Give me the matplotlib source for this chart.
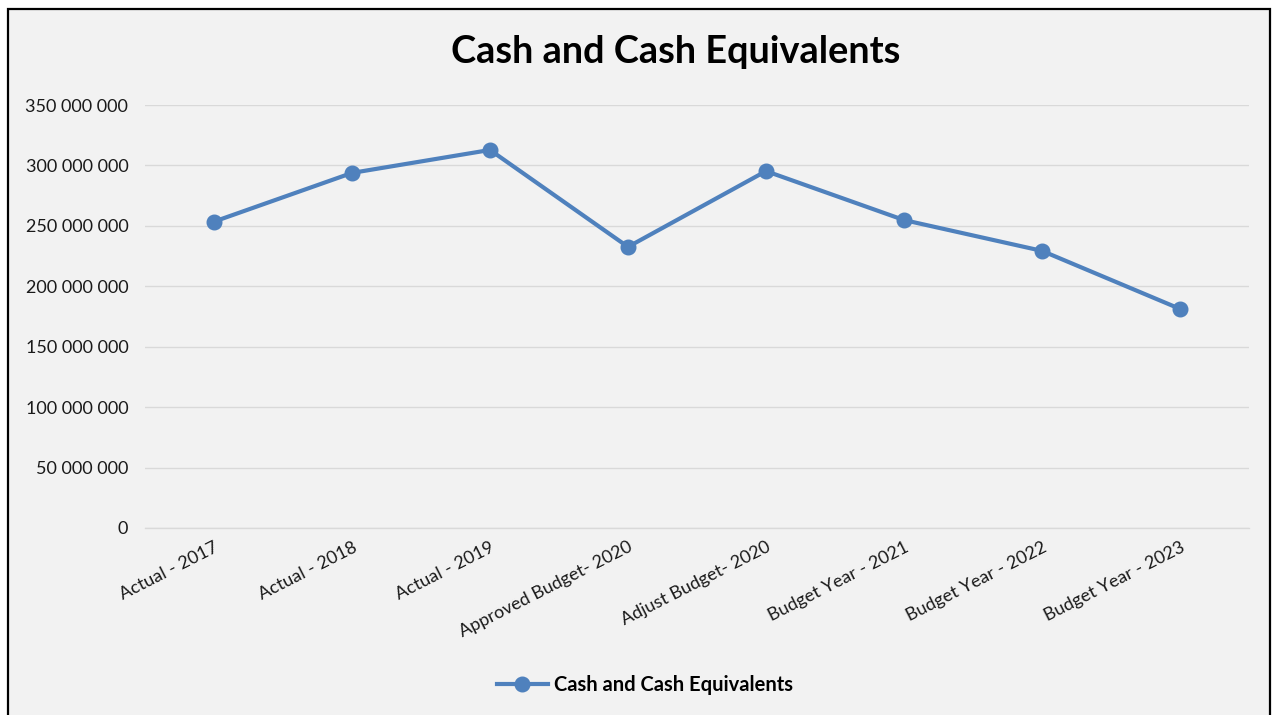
import matplotlib
matplotlib.use("Agg")
import matplotlib.pyplot as plt
from matplotlib.patches import Rectangle
from matplotlib.ticker import FuncFormatter

categories = ["Actual - 2017", "Actual - 2018", "Actual - 2019", "Approved Budget- 2020",
              "Adjust Budget- 2020", "Budget Year - 2021", "Budget Year - 2022", "Budget Year - 2023"]
cash_values = [253_500_000, 293_800_000, 312_800_000, 232_600_000,
               295_300_000, 254_800_000, 229_300_000, 181_300_000]
y_ticks = [0, 50_000_000, 100_000_000, 150_000_000, 200_000_000, 250_000_000, 300_000_000, 350_000_000]

blue = "#4F81BD"
bg = "#F2F2F2"
plt.rcParams["font.family"] = ["Lato", "DejaVu Sans"]

fig = plt.figure(figsize=(12.74, 7.15), dpi=100, facecolor="white")

# chart frame
frame = Rectangle((8 / 1274, -0.01), 1262 / 1274, 1 - 9 / 715 + 0.01, transform=fig.transFigure,
                  facecolor=bg, edgecolor="black", linewidth=1.6, zorder=0)
fig.patches.append(frame)

ax = fig.add_axes([145 / 1274, 1 - 528 / 715, 1104 / 1274, 423 / 715])
ax.set_facecolor("none")
ax.set_zorder(2)

x = list(range(len(categories)))
ax.plot(x, cash_values, color=blue, linewidth=3, marker="o", markersize=10.5,
        label="Cash and Cash Equivalents", zorder=3)

ax.set_xlim(-0.5, len(categories) - 0.5)
ax.set_ylim(0, 350_000_000)
ax.set_yticks(y_ticks)
ax.yaxis.set_major_formatter(FuncFormatter(lambda v, p: f"{int(v):,}".replace(",", " ")))
ax.set_xticks(x)
ax.set_xticklabels(categories, rotation=27, ha="right", rotation_mode="anchor")

ax.grid(axis="y", color="#D9D9D9", linewidth=1)
ax.axhline(0, color="#D9D9D9", linewidth=1, clip_on=False, zorder=1)
ax.set_axisbelow(True)
for s in ax.spines.values():
    s.set_visible(False)
ax.tick_params(axis="both", length=0, labelsize=13, colors="#1a1a1a")
ax.tick_params(axis="y", pad=12)
ax.tick_params(axis="x", pad=8)

fig.text(676 / 1274, 1 - 52 / 715, "Cash and Cash Equivalents", ha="center", va="center",
         fontsize=27.3, fontweight="bold")

leg = fig.legend(loc="center", bbox_to_anchor=(645 / 1274, 1 - 685 / 715), frameon=False,
                 prop={"weight": "bold", "size": 14.5}, handlelength=2.5, handletextpad=0.3)
leg.set_zorder(3)

fig.savefig("out.png", dpi=100, facecolor="white")
